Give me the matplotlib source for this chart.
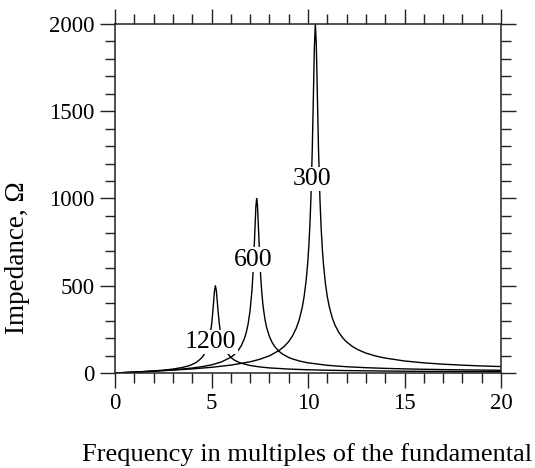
import matplotlib
matplotlib.use("Agg")
import matplotlib.pyplot as plt
from matplotlib.ticker import MultipleLocator

# ---- data ----
h_1200 = [0, 0.5, 1, 1.5, 2, 2.5, 3, 3.5, 3.8, 4, 4.2, 4.4, 4.5, 4.6, 4.7, 4.8, 4.9, 5.0, 5.05, 5.1, 5.15,
          5.2, 5.25, 5.3, 5.35, 5.4, 5.45, 5.5, 5.6, 5.65, 5.7, 5.8, 6.0, 6.2, 6.5, 7, 7.5, 8, 9, 10, 11, 12,
          14, 15, 16, 17, 18, 19, 20]
z_1200 = [0, 2.5, 5.2, 8.2, 11.7, 16.3, 22.5, 32, 40.5, 49, 60, 77.5, 87.8, 103, 124, 153, 198, 273, 328, 396, 465,
          500, 473, 408, 342, 287, 245, 212, 167, 150, 137, 116, 89.5, 73, 57.5, 43, 34.7, 29.2, 22.5, 18.5, 15.8, 13.9,
          11.2, 10.2, 9.4, 8.8, 8.2, 7.7, 7.3]

h_600 = [0, 1, 2, 3, 4, 4.5, 5, 5.5, 6, 6.2, 6.4, 6.55, 6.7, 6.8, 6.9, 7.0, 7.1, 7.15, 7.2, 7.25, 7.3, 7.34,
         7.38, 7.43, 7.5, 7.55, 7.6, 7.65, 7.7, 7.78, 7.85, 8.0, 8.15, 8.3, 8.5, 8.7, 9.0, 9.2, 9.6, 10,
         11, 12, 13, 14, 15, 16, 17, 18, 19, 20]
z_600 = [0, 5.1, 10.8, 18.0, 28.5, 36.1, 46.6, 62.7, 89.9, 107, 132, 158, 196, 232, 283, 358, 479, 568, 683, 823, 954, 1000,
         964, 840, 654, 550, 470, 408, 360, 302, 264, 209, 173, 148, 124, 107, 89.1, 80.4, 67.5, 58.3,
         44.1, 35.9, 30.4, 26.5, 23.6, 21.3, 19.5, 17.9, 16.7, 15.6]

h_300 = [0, 1, 2, 3, 4, 5, 6, 7, 7.5, 8, 8.5, 8.75, 9, 9.2, 9.4, 9.55, 9.7, 9.8, 9.9, 9.97, 10.0, 10.05,
         10.1, 10.15, 10.22, 10.28, 10.33, 10.38, 10.43, 10.48, 10.54, 10.62, 10.68, 10.75, 10.8, 10.9,
         11.0, 11.1, 11.25, 11.4, 11.6, 11.8, 12.0, 12.3, 12.6, 13, 13.5, 14, 15, 16, 17, 18, 19, 20]
z_300 = [0, 5.05, 10.4, 16.4, 23.5, 32.6, 45.1, 64.2, 78.5, 98.5, 129, 150.6, 180, 213, 259, 307, 375, 439, 527, 610, 654, 742,
         853, 997, 1274, 1593, 1867, 2000, 1884, 1619, 1302, 993, 833, 698, 624, 515,
         438, 381, 318.5, 274, 232, 201, 178, 152, 133, 114, 97.5, 85.5, 68.9, 58.1, 50.5, 44.8, 40.4, 36.9]

curve_labels = ["1200", "600", "300"]
label_x = [4.95, 7.18, 10.19]
label_y = [143, 616, 1077]

x_ticks = [0, 5, 10, 15, 20]
y_ticks = [0, 500, 1000, 1500, 2000]

plt.rcParams['font.family'] = ['Liberation Serif', 'DejaVu Serif']

fig = plt.figure(figsize=(5.35, 4.68), dpi=100)
ax = fig.add_axes([115/535, 1 - 373/468, 386/535, 349/468])

for h, z in [(h_1200, z_1200), (h_600, z_600), (h_300, z_300)]:
    ax.plot(h, z, color='black', lw=1.0, zorder=2)

for t, x, y in zip(curve_labels, label_x, label_y):
    ax.text(x, y, t, ha='center', va='baseline', fontsize=18.5, zorder=3,
            bbox=dict(boxstyle='square,pad=0.05', fc='white', ec='none'))

ax.set_xlim(0, 20)
ax.set_ylim(0, 2000)
ax.set_xticks(x_ticks)
ax.set_yticks(y_ticks)
ax.xaxis.set_minor_locator(MultipleLocator(1))
ax.yaxis.set_minor_locator(MultipleLocator(100))
ax.tick_params(which='both', direction='out', top=True, right=True, color='#222222', width=1.0)
ax.tick_params(which='major', length=10.5, labelsize=16.5, pad=4)
ax.tick_params(which='minor', length=7.2)
for s in ax.spines.values():
    s.set_linewidth(1.1)
    s.set_color('#222222')

fig.text(18/535, 1 - 257.5/468, "Impedance, Ω", rotation=90, ha='center', va='center', fontsize=19.5)
fig.text(307/535, 1 - 461/468, "Frequency in multiples of the fundamental", ha='center', va='baseline', fontsize=19)

fig.savefig("out.png", dpi=100)
